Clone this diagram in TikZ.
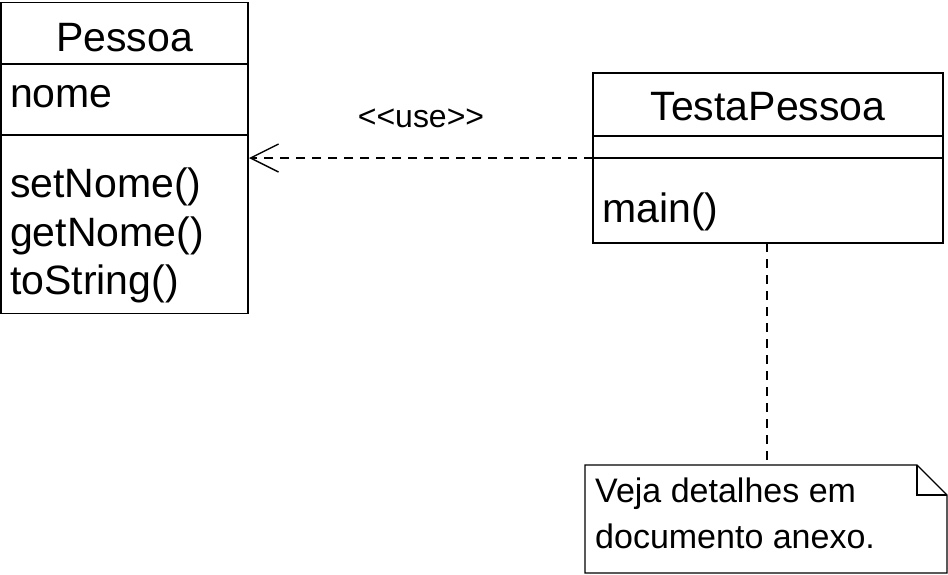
\documentclass[tikz,border=0pt]{standalone}
\usepackage{fontspec}
\setmainfont{Liberation Sans}
\usetikzlibrary{arrows.meta}
\begin{document}
\begin{tikzpicture}[x=1pt,y=-1pt,
  box/.style={draw,line width=1.8pt,rectangle,inner sep=0pt},
  sep/.style={line width=1.8pt},
  cls/.style={font=\fontsize{41}{45}\selectfont,inner sep=0pt},
  mem/.style={font=\fontsize{41}{45}\selectfont,inner sep=0pt,anchor=west},
  lbl/.style={font=\fontsize{32}{36}\selectfont,inner sep=0pt},
  notetext/.style={font=\fontsize{34}{46}\selectfont,inner sep=0pt,anchor=north west,align=left},
  dep/.style={dashed,dash pattern=on 9pt off 7pt,line width=1.4pt},
  every node/.style={text=black}]
\useasboundingbox (0,0) rectangle (948,574);
% Pessoa
\node[box,minimum width=247pt,minimum height=311pt] (P) at (124.5,158) {};
\coordinate (p1w) at (1,64); \coordinate (p1e) at (248,64);
\coordinate (p2w) at (1,135); \coordinate (p2e) at (248,135);
\draw[sep] (p1w) -- (p1e);
\draw[sep] (p2w) -- (p2e);
\node[cls] (Pn) at (124.5,38) {Pessoa};
\node[mem] (a1) at (10,97) {nome};
\node[mem] (m1) at (10,187) {setNome()};
\node[mem] (m2) at (10,236) {getNome()};
\node[mem] (m3) at (10,284) {toString()};
% TestaPessoa
\node[box,minimum width=350pt,minimum height=170pt] (T) at (768,158) {};
\coordinate (t1w) at (593,136); \coordinate (t1e) at (943,136);
\coordinate (t2w) at (593,158); \coordinate (t2e) at (943,158);
\draw[sep] (t1w) -- (t1e);
\draw[sep] (t2w) -- (t2e);
\node[cls] (Tn) at (768,107) {TestaPessoa};
\node[mem] (tm) at (602,212) {main()};
% dependency
\coordinate (pin) at (249,158);
\draw[dep,-{Straight Barb[length=28pt,width=28pt,line width=1.4pt]}] (t2w) -- (pin);
\node[lbl] (use) at (421,118) {<{}<use>{}>};
% note
\coordinate (n1) at (585,465); \coordinate (n2) at (917,465);
\coordinate (n3) at (947,495); \coordinate (n4) at (947,573);
\coordinate (n5) at (585,573); \coordinate (nf) at (917,495);
\draw[line width=1.4pt] (n1) -- (n2) -- (n3) -- (n4) -- (n5) -- cycle;
\draw[line width=1.4pt] (n2) -- (nf) -- (n3);
\node[notetext] (nt) at (595,478) {Veja detalhes em\\documento anexo.};
\coordinate (tb) at (767,243); \coordinate (nb) at (767,465);
\draw[dep] (tb) -- (nb);
\end{tikzpicture}
\end{document}
